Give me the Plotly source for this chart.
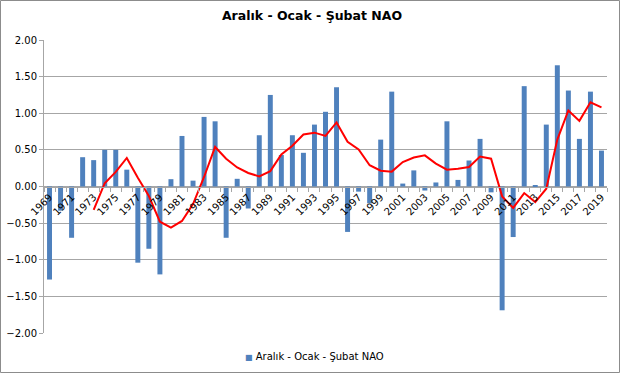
import plotly.graph_objects as go

years = list(range(1969, 2020))
nao = [-1.27, -0.33, -0.70, 0.40, 0.36, 0.50, 0.50, 0.23, -1.04, -0.85,
       -1.20, 0.10, 0.69, 0.08, 0.95, 0.89, -0.70, 0.105, -0.30, 0.70,
       1.25, 0.43, 0.70, 0.46, 0.845, 1.02, 1.355, -0.62, -0.07, -0.23,
       0.64, 1.295, 0.04, 0.22, -0.055, 0.055, 0.89, 0.09, 0.355, 0.65,
       -0.08, -1.69, -0.69, 1.37, 0.015, 0.845, 1.655, 1.31, 0.65, 1.295,
       0.49]
ma_years = list(range(1973, 2020))
ma5 = [-0.32, 0.045, 0.20, 0.39, 0.12, -0.13, -0.48, -0.56, -0.47, -0.24,
       0.13, 0.54, 0.38, 0.26, 0.185, 0.137, 0.21, 0.437, 0.557, 0.71,
       0.735, 0.69, 0.875, 0.61, 0.505, 0.29, 0.215, 0.203, 0.333, 0.395,
       0.425, 0.313, 0.23, 0.242, 0.267, 0.408, 0.38, -0.135, -0.292, -0.09,
       -0.213, -0.03, 0.64, 1.038, 0.896, 1.15, 1.08]
tick_years = list(range(1969, 2020, 2))
series_name = "Aralık - Ocak - Şubat NAO"

FONT = "DejaVu Sans"
GRID = "#a6a6a6"
BAR = "#4f81bd"

fig = go.Figure()
fig.add_trace(go.Bar(x=years, y=nao, name=series_name,
                     marker=dict(color=BAR, line=dict(width=0)),
                     width=0.45, showlegend=False, hoverinfo="skip"))
fig.add_trace(go.Scatter(x=ma_years, y=ma5, mode="lines",
                         line=dict(color="#ff0000", width=2),
                         showlegend=False, hoverinfo="skip"))

fig.update_layout(
    width=624, height=375,
    margin=dict(l=44, r=17, t=40, b=42, autoexpand=False),
    paper_bgcolor="white", plot_bgcolor="white",
    font=dict(family=FONT, size=10, color="#000000"),
    title=dict(text="<b>" + series_name + "</b>", x=0.5, xanchor="center",
               y=1 - 16 / 375, yanchor="middle", pad=dict(t=0, b=0),
               font=dict(family=FONT, size=12.5, color="#000000")),
    showlegend=False,
    xaxis=dict(range=[1968.5, 2019.5], tickmode="array", tickvals=tick_years,
               ticktext=[str(y) for y in tick_years], tickangle=-45,
               anchor="free", position=0.5, showgrid=False, zeroline=False,
               showline=True, linecolor=GRID, linewidth=1, ticks="",
               automargin=False,
               minor=dict(ticks="outside", tickmode="linear", tick0=1968.5,
                          dtick=1, ticklen=4, tickcolor=GRID, showgrid=False),
               tickfont=dict(family=FONT, size=10)),
    yaxis=dict(range=[-2, 2], dtick=0.5, tick0=0, tickformat=".2f",
               showgrid=True, gridcolor=GRID, gridwidth=1, zeroline=False,
               showline=True, linecolor=GRID, linewidth=1, automargin=False,
               ticks="outside", ticklen=4, tickcolor=GRID,
               tickfont=dict(family=FONT, size=10)),
    bargap=0.55,
)

fig.add_annotation(xref="paper", yref="paper",
                   x=(314 - 44) / 563, y=-(356 - 333) / 293,
                   xanchor="center", yanchor="middle", showarrow=False,
                   text="<span style='color:" + BAR + ";font-size:8px'>■</span> " + series_name,
                   font=dict(family=FONT, size=10, color="#000000"))

fig.add_shape(type="rect", xref="paper", yref="paper",
              x0=(0.5 - 44) / 563, x1=(619.5 - 44) / 563,
              y0=-(372.5 - 333) / 293, y1=1 + (40 - 0.5) / 293,
              line=dict(color="#8c8c8c", width=1), fillcolor="rgba(0,0,0,0)",
              layer="below")

fig.write_html("out.html", config={"displayModeBar": False},
               post_script="document.body.style.margin='0';")
